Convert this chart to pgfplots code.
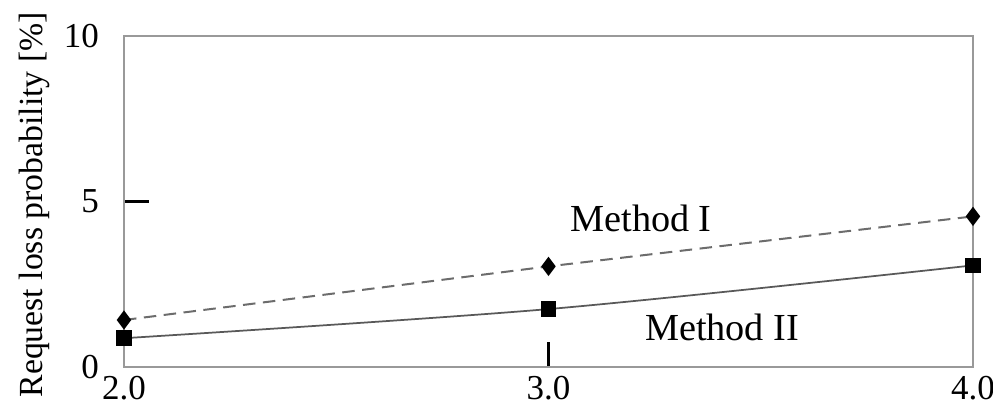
\documentclass[border=0pt]{standalone}
\usepackage{pgfplots}
\pgfplotsset{compat=1.18}
\usepackage{fontspec}
\setmainfont{Liberation Serif}
\begin{document}
\begin{tikzpicture}
\begin{axis}[
  name=ax,
  scale only axis,
  width=339.6pt, height=132.4pt,
  xmin=2, xmax=4, ymin=0, ymax=10,
  xtick={2,3,4}, ytick={0,5,10},
  xticklabels={2.0,3.0,4.0},
  yticklabels={0,5,10},
  tick pos=left,
  tick align=inside,
  major tick length=10pt,
  tick style={black, line width=0.9pt},
  axis line style={gray!80, line width=0.8pt},
  ticklabel style={font=\fontsize{14}{16}\selectfont},
  xticklabel style={yshift=0pt},
  yticklabel style={xshift=-6.5pt},
  ylabel={Request loss probability [\%]},
  ylabel style={font=\fontsize{13.5}{16}\selectfont, at={(axis description cs:-0.105,0.49)}, anchor=center, rotate=0},
  clip=false,
]
\addplot[gray!85!black, dashed, line width=0.8pt, dash pattern=on 5pt off 3pt,
  mark=diamond*, mark options={solid, fill=black, draw=black, scale=1.6}]
  coordinates {(2,1.42) (3,3.04) (4,4.55)};
\addplot[gray!70!black, solid, smooth, line width=0.7pt,
  mark=square*, mark options={fill=black, draw=black, scale=1.4}]
  coordinates {(2,0.87) (3,1.75) (4,3.07)};
\node[font=\fontsize{15.3}{17}\selectfont] at (axis cs:3.218,4.5) {Method I};
\node[font=\fontsize{15.3}{17}\selectfont] at (axis cs:3.409,1.21) {Method II};
\end{axis}
\pgfresetboundingbox
\path[use as bounding box] ([xshift=-49.6pt,yshift=-17.2pt]ax.south west) rectangle ([xshift=8pt,yshift=14.4pt]ax.north east);
\end{tikzpicture}
\end{document}
